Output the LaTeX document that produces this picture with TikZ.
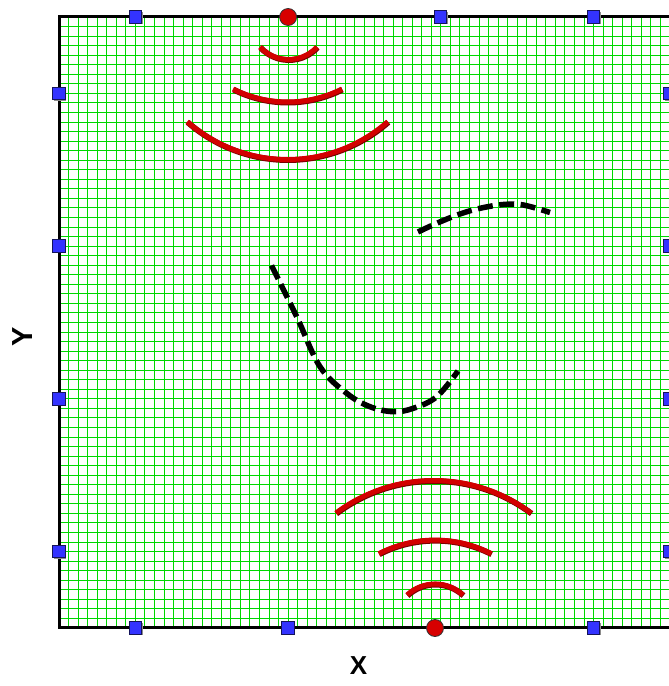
\documentclass[tikz,border=0pt]{standalone}
\usepackage{fontspec}
\setmainfont{Liberation Sans}
\usetikzlibrary{shadows}
\definecolor{gridgreen}{RGB}{0,215,0}
\definecolor{arcred}{RGB}{210,0,0}
\definecolor{arcdark}{RGB}{120,0,0}
\definecolor{sqblue}{RGB}{51,51,255}
\definecolor{sqedge}{RGB}{20,20,90}
\definecolor{dotred}{RGB}{215,0,0}
\tikzset{
  gridline/.style={draw=gridgreen, line width=1pt},
  frame/.style={draw=black, line width=3pt},
  bluesq/.style={rectangle, minimum size=12.5pt, inner sep=0pt, fill=sqblue, draw=sqedge, line width=0.8pt,
    general shadow={fill=black!45, shadow xshift=1pt, shadow yshift=-1pt}},
  reddot/.style={circle, minimum size=17pt, inner sep=0pt, fill=dotred, draw=black!80, line width=0.8pt},
  redarc/.style={draw=arcred, line width=5pt,
    preaction={draw=arcdark, line width=5.8pt, transform canvas={shift={(0.5pt,-0.6pt)}}}},
  dashcurve/.style={draw=black, line width=5.5pt, dash pattern=on 15pt off 6.5pt},
  axislabel/.style={inner sep=0pt}
}
\newcommand{\myarc}[5]{\draw[redarc] ([shift={(#4:#3)}]#1,#2) arc[start angle=#4, end angle=#5, radius=#3];}
\begin{document}
\begin{tikzpicture}[x=1pt,y=1pt]
\useasboundingbox (0,0) rectangle (669,686);
\fill[white] (0,0) rectangle (669,686);
% grid
\foreach \i in {1,...,63} {
  \draw[gridline] ({59+\i*9.546875},58) -- ({59+\i*9.546875},669);
  \draw[gridline] (59,{58+\i*9.546875}) -- (670,{58+\i*9.546875});
}
% red arcs near top source
\myarc{288.5}{665.2}{38.7}{222.6}{317.4}
\myarc{287.5}{704.7}{120.7}{243.2}{296.8}
\myarc{287.5}{678.5}{152}{228.7}{311.3}
% red arcs near bottom source
\myarc{435}{61}{41}{47}{133}
\myarc{435}{23}{122.9}{62.8}{117.2}
\myarc{433.5}{43}{162.5}{53.1}{126.9}
% dashed curves
\draw[dashcurve] plot[smooth, tension=0.6] coordinates {(418,454) (436.7,462.7) (460,472) (480,477.7) (503.3,481.5) (523.3,481) (550,473.5)};
\draw[dashcurve, dash pattern=on 15pt off 6pt] plot[smooth, tension=0.6] coordinates {(271.5,420.5) (296.7,369.3) (320,319.3) (346.7,292.7) (370,279.3) (393.3,274.3) (413.3,277.7) (436.7,289.3) (458,315)};
% frame
\draw[frame] (670,669) -- (59,669) -- (59,58) -- (670,58);
\draw[frame] (670,58) -- (670,669);
% markers top
\node[bluesq] (t1) at (135.4,669) {};
\node[reddot] (srcTop) at (288.1,669) {};
\node[bluesq] (t3) at (440.6,669) {};
\node[bluesq] (t4) at (593.4,669) {};
% markers bottom
\node[bluesq] (b1) at (135.4,58) {};
\node[bluesq] (b2) at (288.1,58) {};
\node[reddot] (srcBot) at (435,58) {};
\node[bluesq] (b4) at (593.4,58) {};
% markers left
\node[bluesq] (l1) at (59,592.6) {};
\node[bluesq] (l2) at (59,439.9) {};
\node[bluesq] (l3) at (59,287.1) {};
\node[bluesq] (l4) at (59,134.4) {};
% markers right
\node[bluesq] (r1) at (670,592.6) {};
\node[bluesq] (r2) at (670,439.9) {};
\node[bluesq] (r3) at (670,287.1) {};
\node[bluesq] (r4) at (670,134.4) {};
% axis labels
\node[axislabel, font=\fontsize{26}{26}\selectfont\bfseries] (xlab) at (358.5,20) {X};
\node[axislabel, font=\fontsize{29}{29}\selectfont\bfseries, rotate=90] (ylab) at (23,349) {Y};
\end{tikzpicture}
\end{document}
